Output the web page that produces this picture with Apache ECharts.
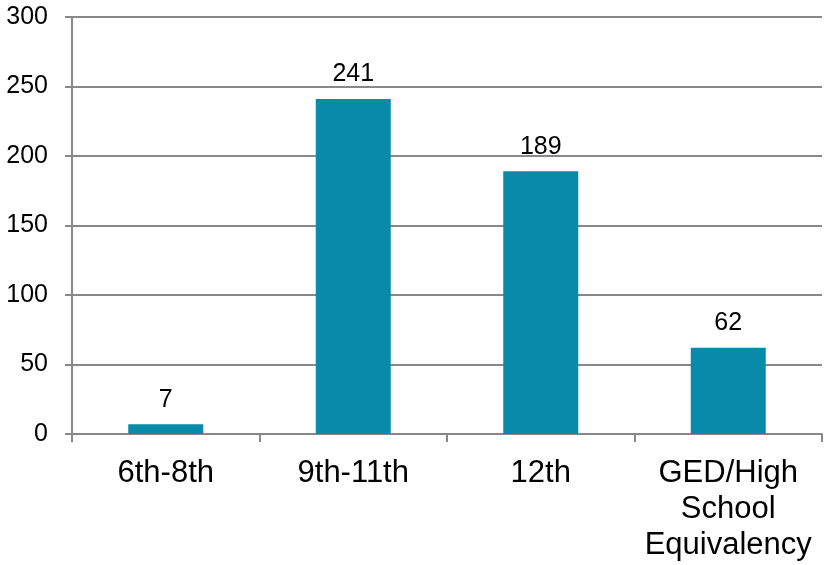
<!DOCTYPE html>
<html><head><meta charset="utf-8">
<script src="https://cdn.jsdelivr.net/npm/echarts@6/dist/echarts.min.js"></script>
<style>html,body{margin:0;padding:0;background:#fff}#c{width:825px;height:565px}</style>
</head><body><div id="c"></div>
<script>
const categories = ['6th-8th', '9th-11th', '12th', 'GED/High\nSchool\nEquivalency'];
const values = [7, 241, 189, 62];
const yTicks = [0, 50, 100, 150, 200, 250, 300];

const chart = echarts.init(document.getElementById('c'));
chart.setOption({
  animation: false,
  grid: { left: 72, right: 3, top: 17, bottom: 131, containLabel: false },
  xAxis: {
    type: 'category',
    data: categories,
    axisLine: { lineStyle: { color: '#888888', width: 2 } },
    axisTick: { show: true, length: 8, alignWithLabel: false, lineStyle: { color: '#888888', width: 2 } },
    axisLabel: { color: '#000', fontFamily: 'Liberation Sans', fontSize: 31, lineHeight: 36, margin: 21, interval: 0 }
  },
  yAxis: {
    type: 'value',
    min: yTicks[0], max: yTicks[yTicks.length - 1], interval: 50,
    axisLine: { show: true, lineStyle: { color: '#888888', width: 2 } },
    axisTick: { show: true, length: 7, lineStyle: { color: '#888888', width: 2 } },
    splitLine: { show: true, lineStyle: { color: '#888888', width: 2 } },
    axisLabel: { color: '#000', fontFamily: 'Liberation Sans', fontSize: 25, margin: 24 }
  },
  series: [{
    type: 'bar',
    data: values,
    barWidth: '40%',
    itemStyle: { color: '#078BA9' },
    label: { show: true, position: 'top', distance: 12, color: '#000', fontFamily: 'Liberation Sans', fontSize: 25 }
  }]
});
</script></body></html>
